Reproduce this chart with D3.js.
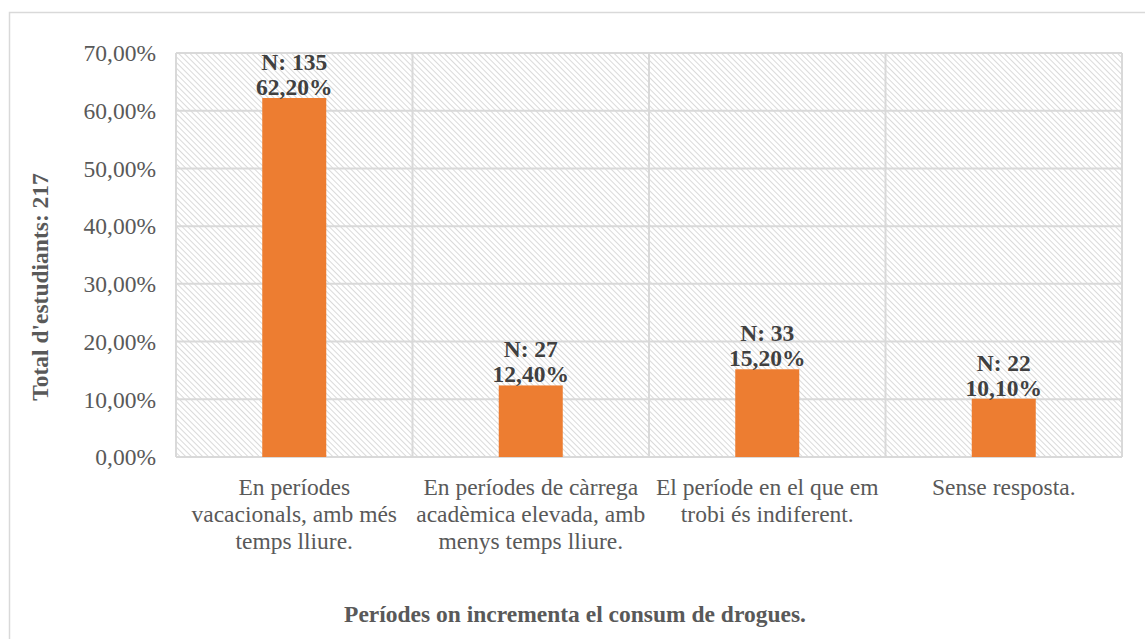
<!DOCTYPE html>
<html>
<head>
<meta charset="utf-8">
<script src="https://cdn.jsdelivr.net/npm/d3@7"></script>
<style>
  body { margin: 0; background: #fff; }
  text { font-family: "Liberation Serif", "Times New Roman", serif; }
</style>
</head>
<body>
<div id="chart"></div>
<script>
// chart values
const categories = [
  ['En períodes', 'vacacionals, amb més', 'temps lliure.'],
  ['En períodes de càrrega', 'acadèmica elevada, amb', 'menys temps lliure.'],
  ['El període en el que em', 'trobi és indiferent.'],
  ['Sense resposta.']
]
const percents = [62.2, 12.4, 15.2, 10.1]
const counts = [135, 27, 33, 22]
const yTicks = [0, 10, 20, 30, 40, 50, 60, 70]

const yTitle = "Total d'estudiants: 217"
const xTitle = 'Períodes on incrementa el consum de drogues.'

const W = 1145, H = 639
const plot = {left: 176, right: 1122, top: 53, bottom: 457}
const fs = 23.5

const fmt = v => v.toFixed(2).replace('.', ',') + '%'

const svg = d3.select('#chart')
  .append('svg')
  .attr('width', W)
  .attr('height', H)

// hatch fill for the plot area
const defs = svg.append('defs')
defs.append('pattern')
  .attr('id', 'hatch')
  .attr('patternUnits', 'userSpaceOnUse')
  .attr('width', 4)
  .attr('height', 4)
  .attr('patternTransform', 'rotate(-45)')
  .append('line')
  .attr('x1', 0).attr('y1', 0)
  .attr('x2', 0).attr('y2', 4)
  .attr('stroke', '#d3d3d3')
  .attr('stroke-width', 1.7)

// outer chart border (runs off the right and bottom)
svg.append('rect')
  .attr('x', 9.5).attr('y', 12.5)
  .attr('width', W + 20).attr('height', H + 20)
  .attr('fill', 'none')
  .attr('stroke', '#d9d9d9')
  .attr('stroke-width', 1.5)

const x = d3.scaleBand()
  .domain(d3.range(categories.length))
  .range([plot.left, plot.right])
  .paddingInner(0)

const y = d3.scaleLinear()
  .domain([0, 70])
  .range([plot.bottom, plot.top])

svg.append('rect')
  .attr('x', plot.left).attr('y', plot.top)
  .attr('width', plot.right - plot.left)
  .attr('height', plot.bottom - plot.top)
  .attr('fill', 'url(#hatch)')

// horizontal grid
svg.append('g')
  .selectAll('line')
  .data(yTicks)
  .join('line')
  .attr('x1', plot.left).attr('x2', plot.right)
  .attr('y1', d => y(d)).attr('y2', d => y(d))
  .attr('stroke', '#d9d9d9')
  .attr('stroke-width', 2)

// vertical grid at category boundaries
const bounds = d3.range(categories.length + 1).map(i => plot.left + i * x.step())
svg.append('g')
  .selectAll('line')
  .data(bounds)
  .join('line')
  .attr('x1', d => d).attr('x2', d => d)
  .attr('y1', plot.top).attr('y2', plot.bottom)
  .attr('stroke', '#d9d9d9')
  .attr('stroke-width', 2)

// y axis tick labels
svg.append('g')
  .selectAll('text')
  .data(yTicks)
  .join('text')
  .attr('x', 156)
  .attr('y', d => y(d))
  .attr('dy', '0.35em')
  .attr('text-anchor', 'end')
  .attr('font-size', fs)
  .attr('fill', '#595959')
  .text(d => fmt(d))

// bars
const barW = 64
svg.append('g')
  .selectAll('rect')
  .data(percents)
  .join('rect')
  .attr('x', (d, i) => x(i) + x.bandwidth() / 2 - barW / 2)
  .attr('y', d => y(d))
  .attr('width', barW)
  .attr('height', d => y(0) - y(d))
  .attr('fill', '#ed7d31')

// data labels
const lab = svg.append('g')
  .selectAll('text')
  .data(percents)
  .join('text')
  .attr('text-anchor', 'middle')
  .attr('font-size', fs)
  .attr('font-weight', 'bold')
  .attr('fill', '#404040')
lab.append('tspan')
  .attr('x', (d, i) => x(i) + x.bandwidth() / 2)
  .attr('y', d => y(d) - 28)
  .text((d, i) => 'N: ' + counts[i])
lab.append('tspan')
  .attr('x', (d, i) => x(i) + x.bandwidth() / 2)
  .attr('y', d => y(d) - 3)
  .text(d => fmt(d))

// category labels
svg.append('g')
  .selectAll('text')
  .data(categories)
  .join('text')
  .attr('text-anchor', 'middle')
  .attr('font-size', fs)
  .attr('fill', '#595959')
  .each(function(lines, i) {
    d3.select(this).selectAll('tspan')
      .data(lines)
      .join('tspan')
      .attr('x', x(i) + x.bandwidth() / 2)
      .attr('y', (l, j) => 495 + j * 27)
      .text(l => l)
  })

// axis titles
svg.append('text')
  .attr('transform', 'translate(48,287) rotate(-90)')
  .attr('text-anchor', 'middle')
  .attr('font-size', fs)
  .attr('font-weight', 'bold')
  .attr('fill', '#595959')
  .text(yTitle)

svg.append('text')
  .attr('x', 575)
  .attr('y', 622)
  .attr('text-anchor', 'middle')
  .attr('font-size', fs)
  .attr('font-weight', 'bold')
  .attr('fill', '#595959')
  .text(xTitle)
</script>
</body>
</html>
